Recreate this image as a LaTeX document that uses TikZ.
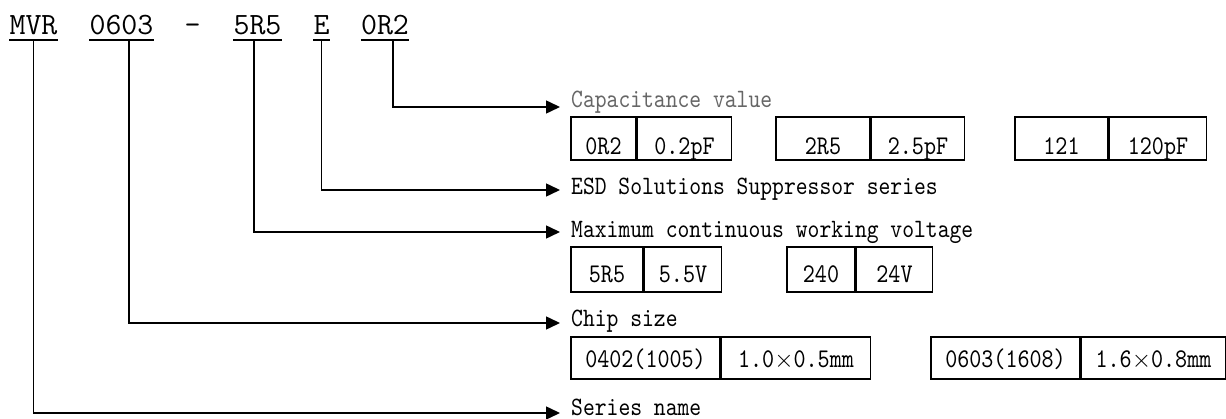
\documentclass[tikz,border=0pt]{standalone}
\usepackage{fontspec}
\usepackage{tikz}
\usetikzlibrary{arrows.meta, positioning}

% narrow typewriter face for the descriptions and tables
\newfontfamily\narrowtt[FakeStretch=0.85]{lmmono10-regular.otf}

\tikzset{
    code/.style={font=\ttfamily\fontsize{31}{31}\selectfont, inner sep=0pt, text depth=5pt, anchor=base},
    lbl/.style={font=\narrowtt\fontsize{26.5}{26.5}\selectfont, inner sep=0pt, anchor=base west},
    cell/.style={draw, line width=1.5pt, font=\narrowtt\fontsize{27}{27}\selectfont, inner sep=0pt},
    rowA/.style={cell, text height=38pt, text depth=5pt},
    rowB/.style={cell, text height=36pt, text depth=9pt},
    rowC/.style={cell, text height=31pt, text depth=11pt},
    uline/.style={line width=1.5pt},
    conn/.style={line width=1.5pt, -{Triangle[length=14pt,width=13pt]}}
}

\begin{document}
\begin{tikzpicture}[x=1pt, y=-1pt]
    \useasboundingbox (0,0) rectangle (1226,419);

    % part number
    \node[code] (cMVR) at (33.5,35) {MVR};
    \node[code] (c0603) at (121.5,35) {0603};
    \node[code] (cDash) at (192.5,35) {-};
    \node[code] (c5R5) at (257.5,35) {5R5};
    \node[code] (cE) at (321.5,35) {E};
    \node[code] (c0R2) at (385,35) {0R2};
    \draw[uline] (cMVR.south west) -- (cMVR.south east);
    \draw[uline] (c0603.south west) -- (c0603.south east);
    \draw[uline] (c5R5.south west) -- (c5R5.south east);
    \draw[uline] (cE.south west) -- (cE.south east);
    \draw[uline] (c0R2.south west) -- (c0R2.south east);

    % arrow ends
    \coordinate (tipCap) at (560,107);
    \coordinate (tipEsd) at (560,190);
    \coordinate (tipVolt) at (560,232);
    \coordinate (tipChip) at (560,323);
    \coordinate (tipSer) at (560,413);

    \draw[conn] ([xshift=8pt]c0R2.south) |- (tipCap);
    \draw[conn] (cE.south) |- (tipEsd);
    \draw[conn] ([xshift=-3.5pt]c5R5.south) |- (tipVolt);
    \draw[conn] ([xshift=7.5pt]c0603.south) |- (tipChip);
    \draw[conn] (cMVR.south) |- (tipSer);

    % descriptions
    \node[lbl, text=black!60] (lCap) at (571,108) {Capacitance value};
    \node[lbl] (lEsd) at (571,195) {ESD Solutions Suppressor series};
    \node[lbl] (lVolt) at (571,238) {Maximum continuous working voltage};
    \node[lbl] (lChip) at (571,327) {Chip size};
    \node[lbl] (lSer) at (571,415) {Series name};

    % capacitance table
    \node[rowA, minimum width=65pt] (capA1) at (603.5,138.5) {0R2};
    \node[rowA, minimum width=94pt, right=0pt of capA1] (capB1) {0.2pF};
    \node[rowA, minimum width=94pt] (capA2) at (823,138.5) {2R5};
    \node[rowA, minimum width=93pt, right=0pt of capA2] (capB2) {2.5pF};
    \node[rowA, minimum width=93pt] (capA3) at (1061.5,138.5) {121};
    \node[rowA, minimum width=97pt, right=0pt of capA3] (capB3) {120pF};

    % voltage table
    \node[rowB, minimum width=72pt] (vA1) at (607,269.5) {5R5};
    \node[rowB, minimum width=77pt, right=0pt of vA1] (vB1) {5.5V};
    \node[rowB, minimum width=68pt] (vA2) at (821,269.5) {240};
    \node[rowB, minimum width=76pt, right=0pt of vA2] (vB2) {24V};

    % chip size table
    \node[rowC, minimum width=149pt] (sA1) at (645.5,358) {0402(1005)};
    \node[rowC, minimum width=149pt, right=0pt of sA1] (sB1) {1.0\(\times\)0.5mm};
    \node[rowC, minimum width=149pt] (sA2) at (1005.5,358) {0603(1608)};
    \node[rowC, minimum width=144pt, right=0pt of sA2] (sB2) {1.6\(\times\)0.8mm};
\end{tikzpicture}
\end{document}
